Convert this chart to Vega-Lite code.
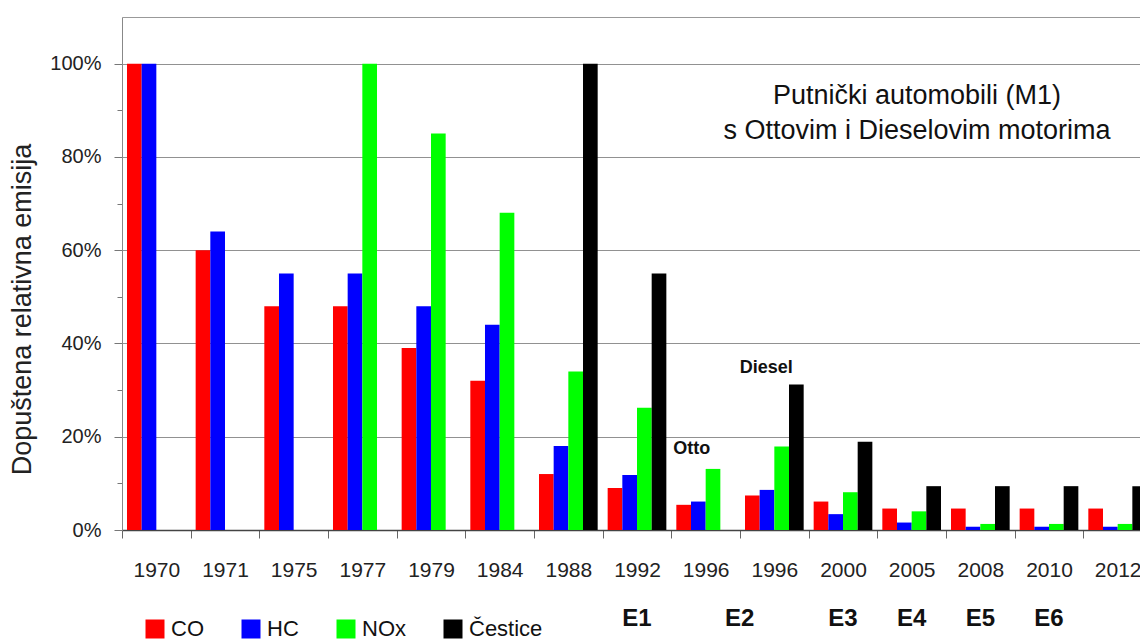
{
  "$schema": "https://vega.github.io/schema/vega-lite/v6.json",
  "width": 1018,
  "height": 513,
  "autosize": {"type": "none"},
  "padding": {"left": 122, "top": 17, "right": 0, "bottom": 114},
  "background": "white",
  "config": {
    "view": {"stroke": null},
    "font": "Liberation Sans",
    "axis": {"labelFont": "Liberation Sans", "titleFont": "Liberation Sans"},
    "legend": {
      "orient": "none",
      "legendX": 22,
      "legendY": 601,
      "direction": "horizontal",
      "symbolType": "square",
      "symbolSize": 361,
      "symbolStrokeWidth": 0,
      "symbolOpacity": 1,
      "labelFontSize": 22,
      "labelFont": "Liberation Sans",
      "labelColor": "#111",
      "labelOffset": 5,
      "columnPadding": 36
    }
  },
  "title": {
    "text": ["Putnički automobili (M1)", "s Ottovim i Dieselovim motorima"],
    "anchor": "start",
    "frame": "group",
    "align": "center",
    "orient": "top",
    "offset": 0,
    "dx": 795,
    "dy": 149,
    "baseline": "alphabetic",
    "fontSize": 27,
    "fontWeight": "normal",
    "font": "Liberation Sans",
    "color": "#111",
    "lineHeight": 35
  },
  "data": {
    "values": [
      {"cat": "1970", "pollutant": "CO", "value": 100},
      {"cat": "1970", "pollutant": "HC", "value": 100},
      {"cat": "1971", "pollutant": "CO", "value": 60},
      {"cat": "1971", "pollutant": "HC", "value": 64},
      {"cat": "1975", "pollutant": "CO", "value": 48},
      {"cat": "1975", "pollutant": "HC", "value": 55},
      {"cat": "1977", "pollutant": "CO", "value": 48},
      {"cat": "1977", "pollutant": "HC", "value": 55},
      {"cat": "1977", "pollutant": "NOx", "value": 100},
      {"cat": "1979", "pollutant": "CO", "value": 39},
      {"cat": "1979", "pollutant": "HC", "value": 48},
      {"cat": "1979", "pollutant": "NOx", "value": 85},
      {"cat": "1984", "pollutant": "CO", "value": 32},
      {"cat": "1984", "pollutant": "HC", "value": 44},
      {"cat": "1984", "pollutant": "NOx", "value": 68},
      {"cat": "1988", "pollutant": "CO", "value": 12},
      {"cat": "1988", "pollutant": "HC", "value": 18},
      {"cat": "1988", "pollutant": "NOx", "value": 34},
      {"cat": "1988", "pollutant": "Čestice", "value": 100},
      {"cat": "1992", "pollutant": "CO", "value": 9},
      {"cat": "1992", "pollutant": "HC", "value": 11.8},
      {"cat": "1992", "pollutant": "NOx", "value": 26.2},
      {"cat": "1992", "pollutant": "Čestice", "value": 55},
      {"cat": "1996 (Otto)", "pollutant": "CO", "value": 5.4},
      {"cat": "1996 (Otto)", "pollutant": "HC", "value": 6.1},
      {"cat": "1996 (Otto)", "pollutant": "NOx", "value": 13.1},
      {"cat": "1996 (Diesel)", "pollutant": "CO", "value": 7.4},
      {"cat": "1996 (Diesel)", "pollutant": "HC", "value": 8.6},
      {"cat": "1996 (Diesel)", "pollutant": "NOx", "value": 17.9},
      {"cat": "1996 (Diesel)", "pollutant": "Čestice", "value": 31.2},
      {"cat": "2000", "pollutant": "CO", "value": 6.1},
      {"cat": "2000", "pollutant": "HC", "value": 3.4},
      {"cat": "2000", "pollutant": "NOx", "value": 8.1},
      {"cat": "2000", "pollutant": "Čestice", "value": 18.9},
      {"cat": "2005", "pollutant": "CO", "value": 4.6},
      {"cat": "2005", "pollutant": "HC", "value": 1.6},
      {"cat": "2005", "pollutant": "NOx", "value": 4.0},
      {"cat": "2005", "pollutant": "Čestice", "value": 9.4},
      {"cat": "2008", "pollutant": "CO", "value": 4.6},
      {"cat": "2008", "pollutant": "HC", "value": 0.7},
      {"cat": "2008", "pollutant": "NOx", "value": 1.3},
      {"cat": "2008", "pollutant": "Čestice", "value": 9.4},
      {"cat": "2010", "pollutant": "CO", "value": 4.6},
      {"cat": "2010", "pollutant": "HC", "value": 0.7},
      {"cat": "2010", "pollutant": "NOx", "value": 1.3},
      {"cat": "2010", "pollutant": "Čestice", "value": 9.4},
      {"cat": "2012", "pollutant": "CO", "value": 4.6},
      {"cat": "2012", "pollutant": "HC", "value": 0.7},
      {"cat": "2012", "pollutant": "NOx", "value": 1.3},
      {"cat": "2012", "pollutant": "Čestice", "value": 9.4}
    ]
  },
  "encoding": {
    "y": {
      "field": "value",
      "type": "quantitative",
      "scale": {"domain": [0, 110], "nice": false},
      "axis": {
        "title": "Dopuštena relativna emisija",
        "values": [0, 10, 20, 30, 40, 50, 60, 70, 80, 90, 100],
        "labelExpr": "datum.value % 20 === 0 ? datum.value + '%' : ''",
        "labelFontSize": 20,
        "labelColor": "#222",
        "labelPadding": 13,
        "tickSize": {"condition": {"test": "datum.value % 20 !== 0", "value": 5}, "value": 8},
        "tickColor": "#777",
        "domainColor": "#888",
        "grid": true,
        "gridColor": "#222",
        "gridDash": [1, 1],
        "gridOpacity": {"condition": {"test": "datum.value % 20 !== 0 || datum.value === 0", "value": 0}, "value": 1},
        "titleFontSize": 27,
        "titleFontWeight": "normal",
        "titleColor": "#222",
        "titleX": -86,
        "titleY": 292,
        "labelOverlap": false,
        "labelBound": false
      }
    }
  },
  "layer": [
    {
      "mark": {"type": "bar"},
      "encoding": {
        "x": {
          "field": "cat",
          "type": "nominal",
          "scale": {
            "type": "band",
            "domain": ["1970", "1971", "1975", "1977", "1979", "1984", "1988", "1992", "1996 (Otto)", "1996 (Diesel)", "2000", "2005", "2008", "2010", "2012"],
            "range": [0, 1030],
            "paddingInner": 0,
            "paddingOuter": 0
          },
          "axis": {
            "title": null,
            "labelExpr": "substring(datum.label, 0, 4)",
            "labelAngle": 0,
            "labelFontSize": 21,
            "labelColor": "#222",
            "labelPadding": 21,
            "tickBand": "extent",
            "tickSize": 8,
            "tickColor": "#666",
            "domainColor": "#444",
            "domainWidth": 1.5,
            "grid": false,
            "labelOverlap": false,
            "labelBound": false
          }
        },
        "xOffset": {
          "field": "pollutant",
          "type": "nominal",
          "scale": {"domain": ["CO", "HC", "NOx", "Čestice"], "paddingInner": 0, "paddingOuter": 0.34}
        },
        "color": {
          "field": "pollutant",
          "type": "nominal",
          "scale": {"domain": ["CO", "HC", "NOx", "Čestice"], "range": ["#FF0000", "#0000FF", "#00FF00", "#000000"]},
          "legend": {"title": null}
        }
      }
    },
    {
      "transform": [{"filter": "datum.cat === '1996 (Otto)' && datum.pollutant === 'NOx'"}],
      "mark": {"type": "text", "text": "Otto", "font": "Liberation Sans", "fontWeight": "bold", "fontSize": 18, "color": "#111", "baseline": "alphabetic", "dx": -14, "dy": -15},
      "encoding": {
        "x": {
          "field": "cat",
          "type": "nominal",
          "scale": {"type": "band"},
          "axis": {
            "orient": "bottom",
            "title": null,
            "ticks": false,
            "tickSize": 0,
            "domain": false,
            "grid": false,
            "labelAngle": 0,
            "labelExpr": "datum.value === '1992' ? 'E1' : datum.value === '1996 (Otto)' ? 'E2' : datum.value === '2000' ? 'E3' : datum.value === '2005' ? 'E4' : datum.value === '2008' ? 'E5' : datum.value === '2010' ? 'E6' : ''",
            "labelFont": "Liberation Sans",
            "labelFontSize": 24,
            "labelFontWeight": "bold",
            "labelColor": "#111",
            "labelPadding": 76,
            "labelOffset": {"condition": {"test": "datum.value === '1996 (Otto)'", "value": 34}, "value": 0},
            "labelOverlap": false,
            "labelBound": false
          }
        }
      }
    },
    {
      "transform": [{"filter": "datum.cat === '1996 (Diesel)' && datum.pollutant === 'Čestice'"}],
      "mark": {"type": "text", "text": "Diesel", "font": "Liberation Sans", "fontWeight": "bold", "fontSize": 18, "color": "#111", "baseline": "alphabetic", "dx": -8, "dy": -11},
      "encoding": {
        "x": {
          "field": "cat",
          "type": "nominal",
          "scale": {"type": "band"},
          "axis": {
            "orient": "top",
            "title": null,
            "ticks": false,
            "labels": false,
            "grid": false,
            "domain": true,
            "domainColor": "#999",
            "domainWidth": 1
          }
        }
      }
    }
  ],
  "resolve": {"axis": {"x": "independent"}}
}
